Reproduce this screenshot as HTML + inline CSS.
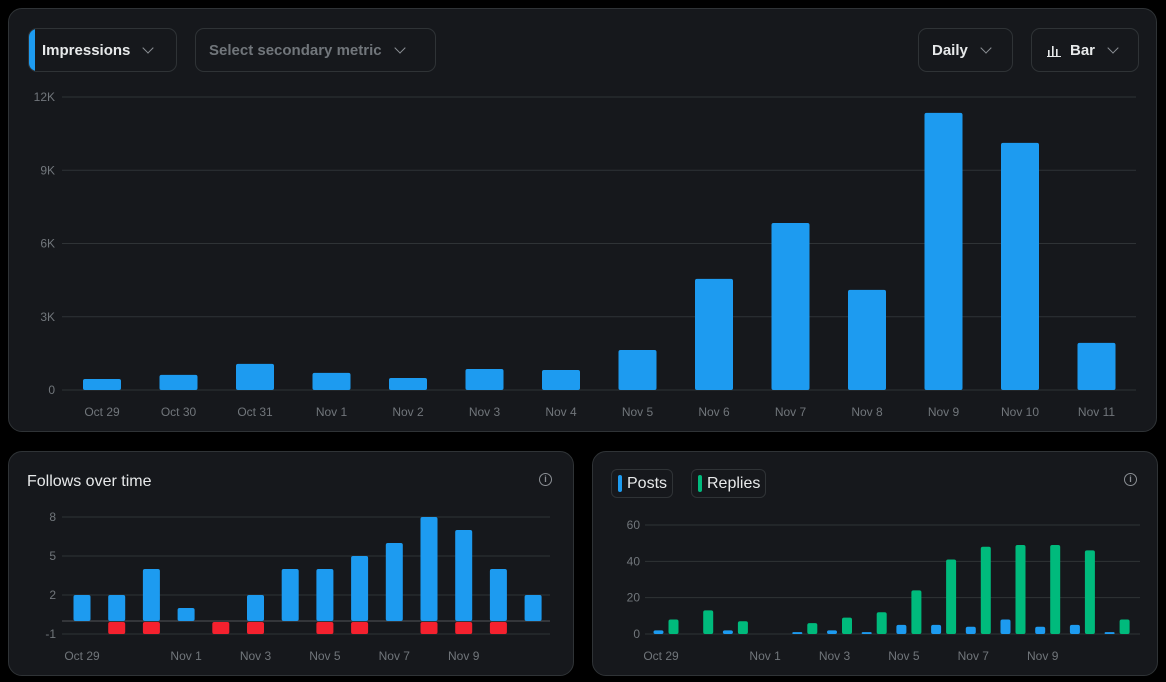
<!DOCTYPE html>
<html><head><meta charset="utf-8">
<style>
*{box-sizing:border-box;margin:0;padding:0}
body{width:1166px;height:682px;background:#000;font-family:"Liberation Sans",sans-serif;position:relative;overflow:hidden}
.panel{position:absolute;background:#16181c;border:1px solid #2f3336;border-radius:14px}
.btn{position:absolute;border:1px solid #2f3336;border-radius:9px;background:#16181c;color:#e7e9ea;font-weight:bold;font-size:15px;display:flex;align-items:center;height:44px;padding-left:13px}
.chev{display:inline-block;width:8px;height:8px;border-right:1.5px solid #8b8f94;border-bottom:1.5px solid #8b8f94;transform:rotate(45deg);margin-top:-5px}
svg{position:absolute;left:0;top:0}
svg text{font-family:"Liberation Sans",sans-serif}
.info{position:absolute;width:13px;height:13px;border:1.5px solid #8b8f94;border-radius:50%;color:#8b8f94;font-size:9px;font-weight:bold;text-align:center;line-height:11px}
.leg{position:absolute;top:469px;height:29px;border:1px solid #2f3336;border-radius:6px;color:#e7e9ea;font-size:16px;display:flex;align-items:center;padding-left:6px}
.leg i{display:inline-block;width:4px;height:17px;border-radius:2px;margin-right:5px}
</style></head><body>
<div class="panel" style="left:8px;top:8px;width:1149px;height:424px"></div>
<div class="panel" style="left:8px;top:451px;width:566px;height:225px"></div>
<div class="panel" style="left:592px;top:451px;width:566px;height:225px"></div>

<div class="btn" style="left:28px;top:28px;width:149px;overflow:hidden"><span style="position:absolute;left:0;top:0;width:6px;height:44px;background:#1d9bf0"></span>Impressions<span class="chev" style="margin-left:14px"></span></div>
<div class="btn" style="left:195px;top:28px;width:241px;color:#71767b">Select secondary metric<span class="chev" style="margin-left:14px"></span></div>
<div class="btn" style="left:918px;top:28px;width:95px">Daily<span class="chev" style="margin-left:14px"></span></div>
<div class="btn" style="left:1031px;top:28px;width:108px;padding-left:15px"><svg style="position:static;margin-right:9px" width="14" height="13"><rect x="1" y="6" width="1.6" height="7" fill="#e7e9ea"/><rect x="5" y="2" width="1.6" height="11" fill="#e7e9ea"/><rect x="9" y="5" width="1.6" height="8" fill="#e7e9ea"/><rect x="0" y="12" width="14" height="1.2" fill="#e7e9ea"/></svg>Bar<span class="chev" style="margin-left:14px"></span></div>

<div style="position:absolute;left:27px;top:473px;color:#e7e9ea;font-size:16px">Follows over time</div>
<div class="info" style="left:539px;top:473px">i</div>
<div class="info" style="left:1124px;top:473px">i</div>
<div class="leg" style="left:611px;width:62px"><i style="background:#1d9bf0"></i>Posts</div>
<div class="leg" style="left:691px;width:75px"><i style="background:#00ba7c"></i>Replies</div>

<svg id="s" width="1166" height="682"></svg>
<script>
const days=["Oct 29","Oct 30","Oct 31","Nov 1","Nov 2","Nov 3","Nov 4","Nov 5","Nov 6","Nov 7","Nov 8","Nov 9","Nov 10","Nov 11"];
const impressions=[450,620,1070,700,490,860,820,1640,4550,6840,4100,11350,10120,1930];
const impTicks=[0,3000,6000,9000,12000];
const impTickLabels=["0","3K","6K","9K","12K"];
const followsGained=[2,2,4,1,0,2,4,4,5,6,8,7,4,2];
const followsLost=[0,-1,-1,0,-1,-1,0,-1,-1,0,-1,-1,-1,0];
const followTicks=[-1,2,5,8];
const posts=[2,0,2,0,1,2,1,5,5,4,8,4,5,1];
const replies=[8,13,7,0,6,9,12,24,41,48,49,49,46,8];
const prTicks=[0,20,40,60];
const smallLabelIdx=[0,3,5,7,9,11];

const S=document.getElementById('s');
function el(t,a,txt){const e=document.createElementNS('http://www.w3.org/2000/svg',t);for(const k in a)e.setAttribute(k,a[k]);if(txt!=null)e.textContent=txt;S.appendChild(e);return e;}
function bar(x,y0,y1,w,c,name){const t=Math.min(y0,y1),h=Math.abs(y1-y0);
 const r=Math.min(2,h/2);
 const e=el('rect',{x:x-w/2,y:t,width:w,height:Math.max(h,0),rx:r,fill:c});
 
 }

// main chart
const mx=i=>102+i*76.5, my=v=>390-v*(293/12000);
impTicks.forEach((v,i)=>{el('line',{x1:62,x2:1136,y1:my(v),y2:my(v),stroke:'#2f3336','stroke-width':1});
 const t=el('text',{x:55,y:my(v)+4,'text-anchor':'end','font-size':12,fill:'#71767b'},impTickLabels[i]);
 
 });
impressions.forEach((v,i)=>bar(mx(i),my(0),my(v),38,'#1d9bf0','impressions-bar'));
days.forEach((d,i)=>{const t=el('text',{x:mx(i),y:416,'text-anchor':'middle','font-size':12,fill:'#71767b'},d);
 
 });

// follows
const fx=i=>82+i*34.7, fy=v=>621-v*13;
followTicks.forEach(v=>{el('line',{x1:62,x2:550,y1:fy(v),y2:fy(v),stroke:'#2f3336'});
 const t=el('text',{x:56,y:fy(v)+4,'text-anchor':'end','font-size':12,fill:'#71767b'},String(v));
 
 });
el('line',{x1:62,x2:550,y1:fy(0),y2:fy(0),stroke:'#3e4144','stroke-width':1.5});
followsGained.forEach((v,i)=>{if(v>0)bar(fx(i),fy(0),fy(v),17,'#1d9bf0','follows-gained-bar');});
followsLost.forEach((v,i)=>{if(v<0)bar(fx(i),fy(0)+1,fy(v),17,'#f4212e','follows-lost-bar');});
smallLabelIdx.forEach(i=>{const t=el('text',{x:fx(i),y:660,'text-anchor':'middle','font-size':12,fill:'#71767b'},days[i]);
 
 });

// posts/replies
const px=i=>666+i*34.7, py=v=>634-v*(109/60);
prTicks.forEach(v=>{el('line',{x1:645,x2:1140,y1:py(v),y2:py(v),stroke:'#2f3336'});
 const t=el('text',{x:640,y:py(v)+4,'text-anchor':'end','font-size':12,fill:'#71767b'},String(v));
 
 });
posts.forEach((v,i)=>{if(v>0)bar(px(i)-7.5,py(0),py(v),10,'#1d9bf0','posts-bar');});
replies.forEach((v,i)=>{if(v>0)bar(px(i)+7.5,py(0),py(v),10,'#00ba7c','replies-bar');});
smallLabelIdx.forEach(i=>{const t=el('text',{x:px(i)-5,y:660,'text-anchor':'middle','font-size':12,fill:'#71767b'},days[i]);
 
 });
</script>
</body></html>
